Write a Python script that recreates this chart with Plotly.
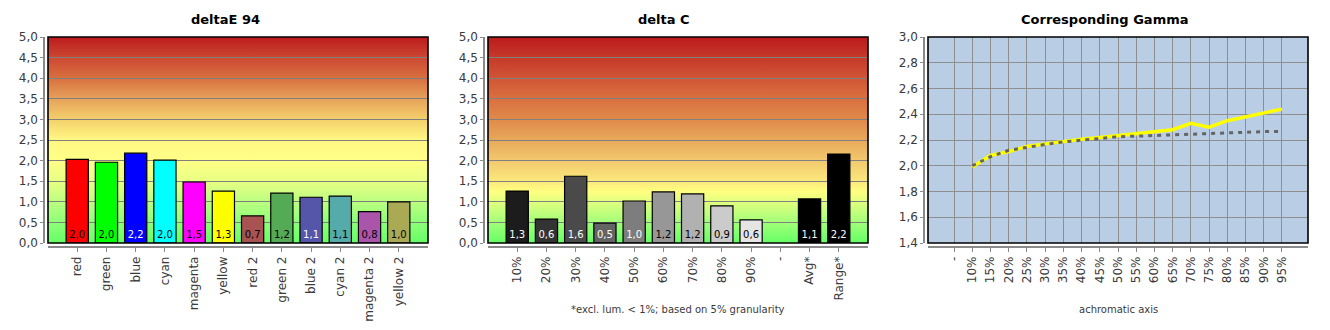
import base64
import plotly.graph_objects as go

# ---------------- data ----------------
de_categories = ["red", "green", "blue", "cyan", "magenta", "yellow",
                 "red 2", "green 2", "blue 2", "cyan 2", "magenta 2", "yellow 2"]
de_values = [2.03, 1.96, 2.18, 2.01, 1.48, 1.26, 0.66, 1.21, 1.11, 1.14, 0.76, 1.00]

dc_categories = ["10%", "20%", "30%", "40%", "50%", "60%", "70%", "80%", "90%",
                 "-", "Avg*", "Range*"]
dc_values = [1.26, 0.58, 1.62, 0.48, 1.02, 1.24, 1.19, 0.90, 0.56, None, 1.07, 2.16]

gamma_categories = ["-", "10%", "15%", "20%", "25%", "30%", "35%", "40%", "45%", "50%",
                    "55%", "60%", "65%", "70%", "75%", "80%", "85%", "90%", "95%"]
gamma_measured = [None, 1.99, 2.08, 2.11, 2.15, 2.17, 2.19, 2.205, 2.22, 2.235,
                  2.245, 2.26, 2.28, 2.33, 2.30, 2.35, 2.38, 2.41, 2.44]
gamma_reference = [None, 2.00, 2.07, 2.12, 2.145, 2.165, 2.185, 2.20, 2.215, 2.225,
                   2.23, 2.235, 2.245, 2.245, 2.25, 2.26, 2.26, 2.265, 2.267]

# ---------------- styles ----------------
de_colors = ["#ff0000", "#00ff00", "#0000ff", "#00ffff", "#ff00ff", "#ffff00",
             "#a85252", "#55aa55", "#5555aa", "#55aaaa", "#aa55aa", "#aaaa55"]
de_text_colors = ["black", "black", "white", "black", "black", "black",
                  "black", "black", "white", "black", "black", "black"]
dc_colors = ["#1c1c1c", "#333333", "#4a4a4a", "#646464", "#7d7d7d", "#979797",
             "#b1b1b1", "#cbcbcb", "#e5e5e5", "#000000", "#000000", "#000000"]
dc_text_colors = ["white", "white", "white", "white", "white", "black",
                  "black", "black", "black", "white", "white", "white"]

grad_left = [(0.0, "#66ff66"), (0.1, "#8eff78"), (0.2, "#bcff80"), (0.3, "#e8ff84"),
             (0.4, "#ffff86"), (0.5, "#fff884"), (0.6, "#f4d06c"), (0.7, "#e6a25a"),
             (0.8, "#d8703f"), (0.9, "#cc4832"), (1.0, "#bc1a1c")]
grad_mid = [(0.0, "#66ff66"), (0.1, "#a2ff78"), (0.2, "#e2ff80"), (0.25, "#ffff80"),
            (0.3, "#fbe87c"), (0.4, "#f2c96e"), (0.5, "#e8a85a"), (0.6, "#e08a4a"),
            (0.7, "#da7040"), (0.8, "#d05535"), (0.9, "#c63a2a"), (1.0, "#bc1a1c")]

FONT = "DejaVu Sans"
TICK_COLOR = "#3a3a3a"
W, H = 1330, 330


def grad_uri(stops):
    st = "".join(f'<stop offset="{o}" stop-color="{c}"/>' for o, c in stops)
    svg = ('<svg xmlns="http://www.w3.org/2000/svg" width="10" height="100" '
           'viewBox="0 0 10 100" preserveAspectRatio="none"><defs>'
           '<linearGradient id="g" x1="0" y1="1" x2="0" y2="0">' + st +
           '</linearGradient></defs><rect width="10" height="100" fill="url(#g)"/></svg>')
    return "data:image/svg+xml;base64," + base64.b64encode(svg.encode()).decode()


def fmt(v):
    return "" if v is None else f"{v:.1f}".replace(".", ",")


# plot area pixel geometry
px_left = [48, 488, 928]
px_width = 380
plot_top, plot_bottom = 37, 243
ydom = [(H - plot_bottom) / H, (H - plot_top) / H]
xline_pos = (H - 247) / H

fig = go.Figure()

fig.add_trace(go.Bar(
    x=de_categories, y=de_values, xaxis="x", yaxis="y",
    marker=dict(color=de_colors, line=dict(color="black", width=1.2)),
    text=[fmt(v) for v in de_values], textposition="inside", insidetextanchor="start",
    textangle=0, textfont=dict(family=FONT, size=10, color=de_text_colors),
    constraintext="none", showlegend=False, hoverinfo="x+y"))

fig.add_trace(go.Bar(
    x=dc_categories, y=dc_values, xaxis="x2", yaxis="y2",
    marker=dict(color=dc_colors, line=dict(color="black", width=1.2)),
    text=[fmt(v) for v in dc_values], textposition="inside", insidetextanchor="start",
    textangle=0, textfont=dict(family=FONT, size=10, color=dc_text_colors),
    constraintext="none", showlegend=False, hoverinfo="x+y"))

fig.add_trace(go.Scatter(
    x=gamma_categories, y=gamma_measured, xaxis="x3", yaxis="y3", mode="lines",
    line=dict(color="#ffff00", width=3.5), showlegend=False))
fig.add_trace(go.Scatter(
    x=gamma_categories, y=gamma_reference, xaxis="x3", yaxis="y3", mode="lines",
    line=dict(color="#646464", width=3, dash="4px,5px"), showlegend=False))

tickfont = dict(family=FONT, size=12, color=TICK_COLOR)


def xaxis(i, cats, grid, rng):
    return dict(
        domain=[px_left[i] / W, (px_left[i] + px_width) / W],
        anchor="free", position=xline_pos, type="category",
        categoryorder="array", categoryarray=cats, range=rng,
        showline=True, linecolor="#8a8a8a", linewidth=1.5,
        ticks="outside", ticklen=4, tickcolor="#8a8a8a", tickangle=-90,
        tickfont=tickfont, showgrid=grid, gridcolor="#8e8e8e", gridwidth=1,
        zeroline=False, fixedrange=True, automargin=False)


def yaxis(i, rng, dtick, grid_color):
    return dict(
        domain=ydom, anchor="free", position=(px_left[i] - 4) / W,
        range=rng, dtick=dtick, tick0=0, tickformat=".1f",
        showline=True, linecolor="#8a8a8a", linewidth=1.5,
        ticks="outside", ticklen=3, tickcolor="#8a8a8a",
        tickfont=tickfont, showgrid=True, gridcolor=grid_color, gridwidth=1.3,
        zeroline=False, fixedrange=True, automargin=False)


layout = dict(
    width=W, height=H, autosize=False,
    margin=dict(l=0, r=0, t=0, b=0, pad=0, autoexpand=False),
    paper_bgcolor="white", plot_bgcolor="#b9cde5",
    separators=",.", bargap=0.24,
    font=dict(family=FONT, color=TICK_COLOR),
    xaxis=xaxis(0, de_categories, False, [-1, 12]),
    xaxis2=xaxis(1, dc_categories, False, [-1, 12]),
    xaxis3=xaxis(2, gamma_categories, True, [-1.43, 19.43]),
    yaxis=yaxis(0, [0, 5], 0.5, "#808080"),
    yaxis2=yaxis(1, [0, 5], 0.5, "#808080"),
    yaxis3=yaxis(2, [1.4, 3.0], 0.2, "#8e8e8e"),
)

images = []
for ax, stops in (("", grad_left), ("2", grad_mid)):
    images.append(dict(source=grad_uri(stops), xref=f"x{ax} domain", yref=f"y{ax} domain",
                       x=0, y=1, sizex=1, sizey=1, xanchor="left", yanchor="top",
                       sizing="stretch", layer="below"))
layout["images"] = images

shapes = []
for ax in ("", "2", "3"):
    shapes.append(dict(type="rect", xref=f"x{ax} domain", yref=f"y{ax} domain",
                       x0=0, x1=1, y0=0, y1=1, line=dict(color="black", width=1.6),
                       fillcolor="rgba(0,0,0,0)", layer="above"))
layout["shapes"] = shapes

titles = [("deltaE 94", 225), ("delta C", 664), ("Corresponding Gamma", 1105)]
annotations = []
for t, cx in titles:
    annotations.append(dict(text=f"<b>{t}</b>", x=cx / W, y=1 - 20 / H, xref="paper",
                            yref="paper", showarrow=False, xanchor="center", yanchor="middle",
                            font=dict(family=FONT, size=13, color="black")))
for t, i in (("*excl. lum. &lt; 1%; based on 5% granularity", 1), ("achromatic axis", 2)):
    annotations.append(dict(text=t, x=(px_left[i] + px_width / 2) / W, y=(H - 309) / H,
                            xref="paper", yref="paper", showarrow=False,
                            xanchor="center", yanchor="middle",
                            font=dict(family=FONT, size=10, color=TICK_COLOR)))
layout["annotations"] = annotations

fig.update_layout(**layout)
fig.write_html("out.html")
